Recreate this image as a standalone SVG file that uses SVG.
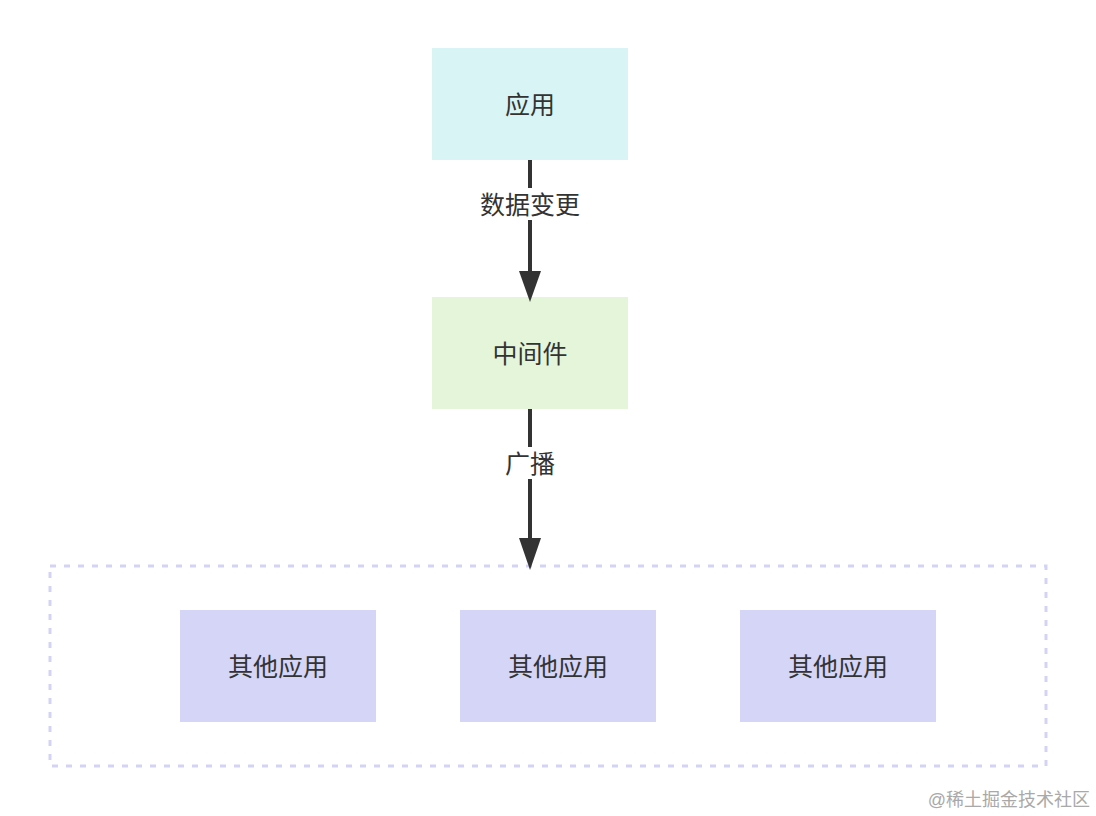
<svg xmlns="http://www.w3.org/2000/svg" width="1096" height="816" viewBox="0 0 1096 816">
<style>
.lbl{font-family:"Liberation Sans","Noto Sans CJK SC",sans-serif;font-size:25px;fill:#333;text-anchor:middle;dominant-baseline:central}
.edge{stroke:#333;stroke-width:4;fill:none}
.head{fill:#333}
.other{fill:#d4d5f7}
</style>
<rect width="1096" height="816" fill="#fff"/>
<g id="group-others">
<rect x="50" y="566" width="996" height="200" fill="none" stroke="#d3d3f5" stroke-width="3" stroke-dasharray="6 8"/>
</g>
<g id="node-app">
<rect x="432" y="48" width="196" height="112" fill="#d9f4f4"/>
<text class="lbl" x="530" y="105">应用</text>
</g>
<g id="node-middleware">
<rect x="432" y="297" width="196" height="112" fill="#e4f5d9"/>
<text class="lbl" x="530" y="354">中间件</text>
</g>
<g id="node-other1">
<rect class="other" x="180" y="610" width="196" height="112"/>
<text class="lbl" x="278" y="667">其他应用</text>
</g>
<g id="node-other2">
<rect class="other" x="460" y="610" width="196" height="112"/>
<text class="lbl" x="558" y="667">其他应用</text>
</g>
<g id="node-other3">
<rect class="other" x="740" y="610" width="196" height="112"/>
<text class="lbl" x="838" y="667">其他应用</text>
</g>
<g id="connectors">
<line class="edge" x1="530" y1="160" x2="530" y2="272"/>
<path class="head" d="M519,271 L541,271 L530,302 Z"/>
<rect x="474" y="188" width="112" height="32" fill="#fff"/>
<text class="lbl" x="530" y="205">数据变更</text>
<line class="edge" x1="530" y1="409" x2="530" y2="539"/>
<path class="head" d="M519,538 L541,538 L530,570 Z"/>
<rect x="500" y="447" width="60" height="32" fill="#fff"/>
<text class="lbl" x="530" y="464">广播</text>
</g>
<text x="1090" y="800" font-family="Liberation Sans,Noto Sans CJK SC,sans-serif" font-size="18" fill="#a9a9a9" text-anchor="end" dominant-baseline="central">@稀土掘金技术社区</text>
</svg>
